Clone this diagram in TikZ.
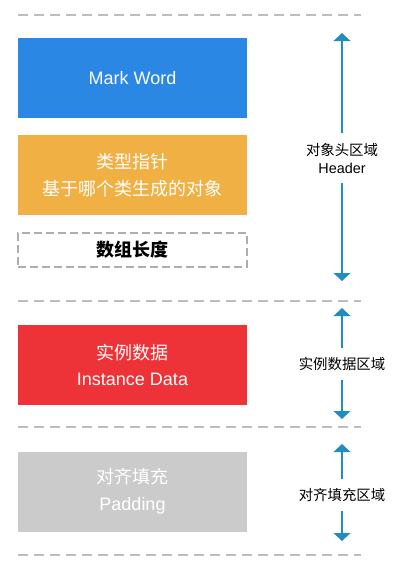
\documentclass[tikz,border=0pt]{standalone}
\usepackage{fontspec}
\setmainfont{Liberation Sans}
\newfontfamily\cjk{Noto Sans CJK SC}
\usepackage{tikz}
\usetikzlibrary{arrows.meta}

\definecolor{markblue}{HTML}{2A87E3}
\definecolor{ptrorange}{HTML}{F0B043}
\definecolor{datared}{HTML}{EE3338}
\definecolor{padgrey}{HTML}{CBCBCB}
\definecolor{arrblue}{HTML}{1F8DBF}
\definecolor{lineg}{HTML}{BDBDBD}

\tikzset{
    part/.style={minimum width=171.75pt, minimum height=60pt, inner sep=0pt,
        text=white, align=center, font=\fontsize{13.5}{20}\selectfont},
    region/.style={align=center, inner sep=0pt, font=\fontsize{10.8}{13.5}\selectfont},
    arr/.style={line width=1.6pt, draw=arrblue,
        -{Triangle[width=12.5pt,length=6pt]}, shorten <=7pt},
    sep/.style={line width=1.1pt, draw=lineg, dash pattern=on 7.5pt off 4.5pt}
}

\begin{document}
\begin{tikzpicture}[x=0.75pt, y=-0.75pt]
    \useasboundingbox (0,0) rectangle (402,569);

    % separators
    \coordinate (s1a) at (18,15);   \coordinate (s1b) at (361,15);
    \coordinate (s2a) at (18,301);  \coordinate (s2b) at (361,301);
    \coordinate (s3a) at (18,427);  \coordinate (s3b) at (361,427);
    \coordinate (s4a) at (18,555);  \coordinate (s4b) at (361,555);
    \draw[sep] (s1a) -- (s1b);
    \draw[sep] (s2a) -- (s2b);
    \draw[sep] (s3a) -- (s3b);
    \draw[sep] (s4a) -- (s4b);

    % object layout
    \node[part, fill=markblue] (mark) at (132.5,78) {Mark Word};
    \node[part, fill=ptrorange] (klass) at (132.5,175) {\cjk 类型指针\\\cjk 基于哪个类生成的对象};
    \node[part, minimum height=25.5pt, text=black, draw=black!32, line width=1.5pt,
        dash pattern=on 6pt off 3pt] (len) at (132.5,250) {\cjk\bfseries 数组长度};
    \node[part, fill=datared] (data) at (132.5,365) {\cjk 实例数据\\Instance Data};
    \node[part, fill=padgrey] (pad) at (132.5,491.5) {\cjk 对齐填充\\Padding};

    % regions
    \node[region] (hdr) at (342,158) {\cjk 对象头区域\\Header};
    \node[region] (dreg) at (342,364) {\cjk 实例数据区域};
    \node[region] (preg) at (342,495) {\cjk 对齐填充区域};

    \coordinate (hdrtop) at (342,33);
    \coordinate (hdrbot) at (342,281);
    \coordinate (dtop) at (342,308);
    \coordinate (dbot) at (342,419);
    \coordinate (ptop) at (342,444);
    \coordinate (pbot) at (342,541);

    \draw[arr] (hdr.north) -- (hdrtop);
    \draw[arr] (hdr.south) -- (hdrbot);
    \draw[arr] (dreg.north) -- (dtop);
    \draw[arr] (dreg.south) -- (dbot);
    \draw[arr] (preg.north) -- (ptop);
    \draw[arr] (preg.south) -- (pbot);
\end{tikzpicture}
\end{document}
